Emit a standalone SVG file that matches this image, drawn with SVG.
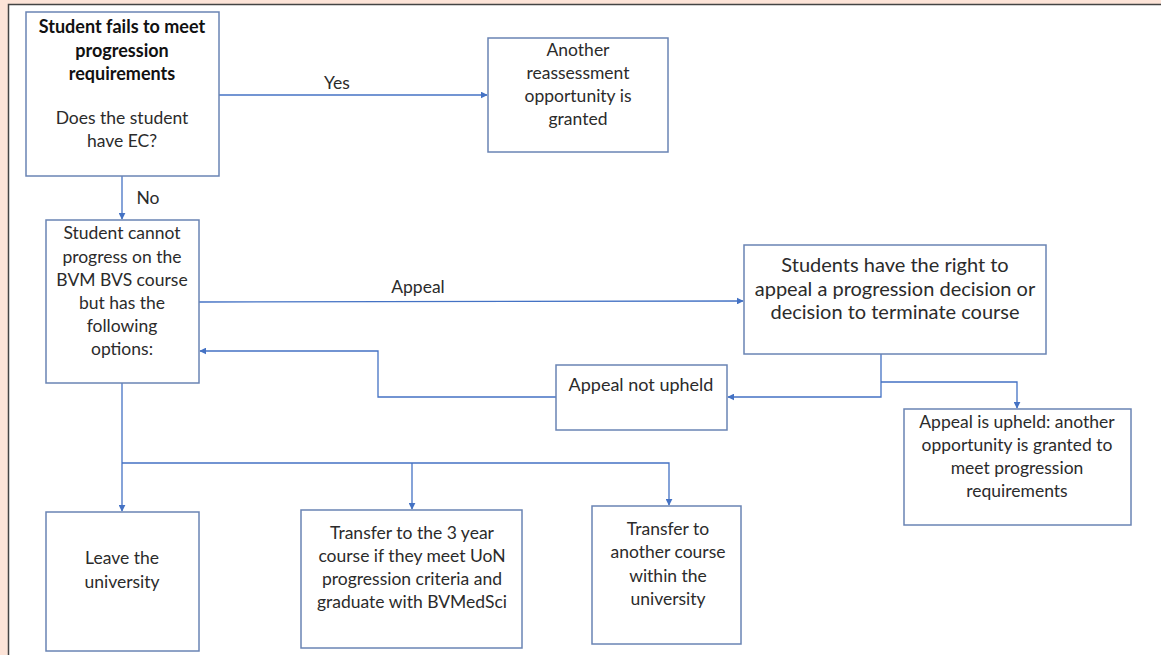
<svg xmlns="http://www.w3.org/2000/svg" width="1161" height="655" viewBox="0 0 1161 655">
<defs>
<marker id="arr" viewBox="0 0 10 10" refX="9" refY="5" markerWidth="7" markerHeight="7" markerUnits="userSpaceOnUse" orient="auto">
<path d="M0,0 L10,5 L0,10 z" fill="#4472c4"/>
</marker>
<style>
.box{fill:#fff;stroke:#6a84b4;stroke-width:1.5}
.t{font-family:Lato,"Liberation Sans",sans-serif;font-size:17.5px;fill:#2b2b2b;text-anchor:middle}
.b{font-weight:bold;fill:#111;font-size:18px}
.big{font-size:20px}
.c{fill:none;stroke:#4472c4;stroke-width:1.3}
</style>
</defs>
<rect x="0" y="0" width="1161" height="655" fill="#fde4d8"/>
<rect x="9" y="5" width="1152" height="650" fill="#fff"/>
<path d="M8.5,655 V4.5 H1161" fill="none" stroke="#444" stroke-width="1.5"/>
<g id="connectors">
<path class="c" d="M219,95 H487" marker-end="url(#arr)"/>
<path class="c" d="M122,176 V219" marker-end="url(#arr)"/>
<path class="c" d="M199,302 L743,301" marker-end="url(#arr)"/>
<path class="c" d="M881,354 V397 H728" marker-end="url(#arr)"/>
<path class="c" d="M881,382 H1017 V408" marker-end="url(#arr)"/>
<path class="c" d="M556,397 H378 V351 H200" marker-end="url(#arr)"/>
<path class="c" d="M122,383 V511" marker-end="url(#arr)"/>
<path class="c" d="M122,463 H669 V505" marker-end="url(#arr)"/>
<path class="c" d="M412,463 V509" marker-end="url(#arr)"/>
<text class="t" x="337" y="89">Yes</text>
<text class="t" x="148" y="204">No</text>
<text class="t" x="418" y="293">Appeal</text>
</g>
<g id="n1">
<rect class="box" x="26" y="12" width="193" height="164"/>
<text class="t b" x="122" y="33">Student fails to meet</text>
<text class="t b" x="122" y="57">progression</text>
<text class="t b" x="122" y="80">requirements</text>
<text class="t" x="122" y="124">Does the student</text>
<text class="t" x="122" y="147">have EC?</text>
</g>
<g id="n2">
<rect class="box" x="488" y="38" width="180" height="114"/>
<text class="t" x="578" y="56">Another</text>
<text class="t" x="578" y="79">reassessment</text>
<text class="t" x="578" y="102">opportunity is</text>
<text class="t" x="578" y="125">granted</text>
</g>
<g id="n3">
<rect class="box" x="46" y="220" width="153" height="163"/>
<text class="t" x="122" y="239">Student cannot</text>
<text class="t" x="122" y="263">progress on the</text>
<text class="t" x="122" y="286">BVM BVS course</text>
<text class="t" x="122" y="309">but has the</text>
<text class="t" x="122" y="332">following</text>
<text class="t" x="122" y="355">options:</text>
</g>
<g id="n4">
<rect class="box" x="744" y="245" width="302" height="109"/>
<text class="t big" x="895" y="272">Students have the right to</text>
<text class="t big" x="895" y="296">appeal a progression decision or</text>
<text class="t big" x="895" y="319">decision to terminate course</text>
</g>
<g id="n5">
<rect class="box" x="556" y="365" width="171" height="65"/>
<text class="t" x="641" y="391" style="font-size:18px">Appeal not upheld</text>
</g>
<g id="n6">
<rect class="box" x="904" y="409" width="227" height="116"/>
<text class="t" x="1017" y="428">Appeal is upheld: another</text>
<text class="t" x="1017" y="451">opportunity is granted to</text>
<text class="t" x="1017" y="474">meet progression</text>
<text class="t" x="1017" y="497">requirements</text>
</g>
<g id="n7">
<rect class="box" x="46" y="512" width="153" height="139"/>
<text class="t" x="122" y="564">Leave the</text>
<text class="t" x="122" y="588">university</text>
</g>
<g id="n8">
<rect class="box" x="301" y="510" width="221" height="138"/>
<text class="t" x="412" y="539">Transfer to the 3 year</text>
<text class="t" x="412" y="562">course if they meet UoN</text>
<text class="t" x="412" y="585">progression criteria and</text>
<text class="t" x="412" y="608">graduate with BVMedSci</text>
</g>
<g id="n9">
<rect class="box" x="592" y="506" width="149" height="138"/>
<text class="t" x="668" y="535">Transfer to</text>
<text class="t" x="668" y="558">another course</text>
<text class="t" x="668" y="582">within the</text>
<text class="t" x="668" y="605">university</text>
</g>
</svg>
